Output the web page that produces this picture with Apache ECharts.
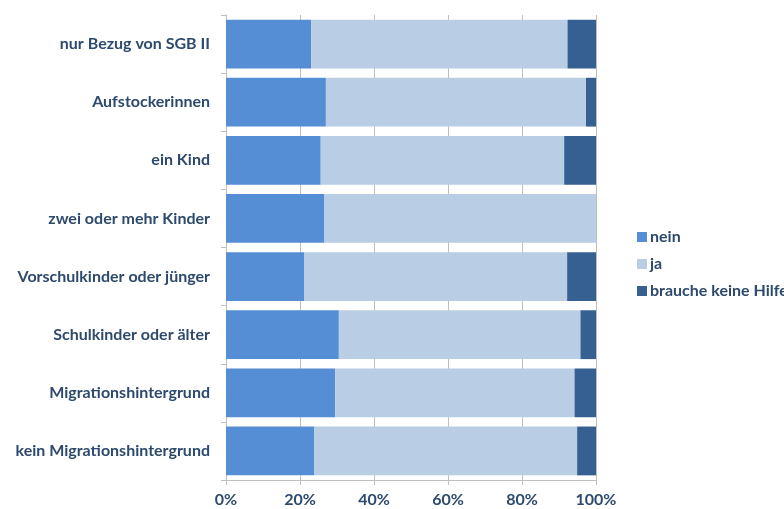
<!DOCTYPE html>
<html><head><meta charset="utf-8">
<script src="https://cdn.jsdelivr.net/npm/echarts@6/dist/echarts.min.js"></script>
<style>html,body{margin:0;padding:0;background:#fff}#c{width:784px;height:509px}</style>
</head><body><div id="c"></div>
<script>
const categories = ["nur Bezug von SGB II","Aufstockerinnen","ein Kind","zwei oder mehr Kinder","Vorschulkinder oder jünger","Schulkinder oder älter","Migrationshintergrund","kein Migrationshintergrund"];
const nein = [23.0, 27.0, 25.6, 26.6, 21.2, 30.5, 29.5, 23.9];
const ja = [69.3, 70.3, 65.8, 73.4, 71.0, 65.3, 64.7, 71.0];
const keineHilfe = [7.7, 2.7, 8.6, 0, 7.8, 4.2, 5.8, 5.1];
const seriesNames = ["nein","ja","brauche keine Hilfe"];
const xTicks = [0,20,40,60,80,100];

const chart = echarts.init(document.getElementById('c'));
const font = 'Lato, "Open Sans", sans-serif';
const txt = '#2d4a6d';
const mk = (name, data, color) => ({
  name, type:'bar', stack:'all', data, barCategoryGap:'16%',
  itemStyle:{color}, emphasis:{disabled:true}
});
chart.setOption({
  animation:false,
  grid:{left:226,right:188,top:15,bottom:29,containLabel:false},
  legend:{
    orient:'vertical', left:632, top:224, itemWidth:10, itemHeight:10, itemGap:11,
    icon:'rect',
    textStyle:{fontFamily:font,fontWeight:'bold',fontSize:16,color:txt,padding:[0,0,0,-2]},
    data:seriesNames
  },
  xAxis:{
    type:'value', min:0, max:100, interval:20,
    axisLabel:{formatter:v=>xTicks.includes(v)?v+'%':'',fontFamily:font,fontWeight:'bold',fontSize:16,color:txt,margin:12},
    axisLine:{show:true,lineStyle:{color:'#bfbfbf'}},
    axisTick:{show:true,length:5,lineStyle:{color:'#bfbfbf'}},
    splitLine:{show:true,lineStyle:{color:'#bfbfbf'}}
  },
  yAxis:{
    type:'category', data:categories, inverse:true,
    axisLabel:{fontFamily:font,fontWeight:'bold',fontSize:16,color:txt,margin:16},
    axisLine:{show:true,lineStyle:{color:'#bfbfbf'}},
    axisTick:{show:true,length:5,lineStyle:{color:'#bfbfbf'}}
  },
  series:[
    mk(seriesNames[0], nein, '#558ed5'),
    mk(seriesNames[1], ja, '#b9cde5'),
    mk(seriesNames[2], keineHilfe, '#376092')
  ]
});
</script></body></html>
